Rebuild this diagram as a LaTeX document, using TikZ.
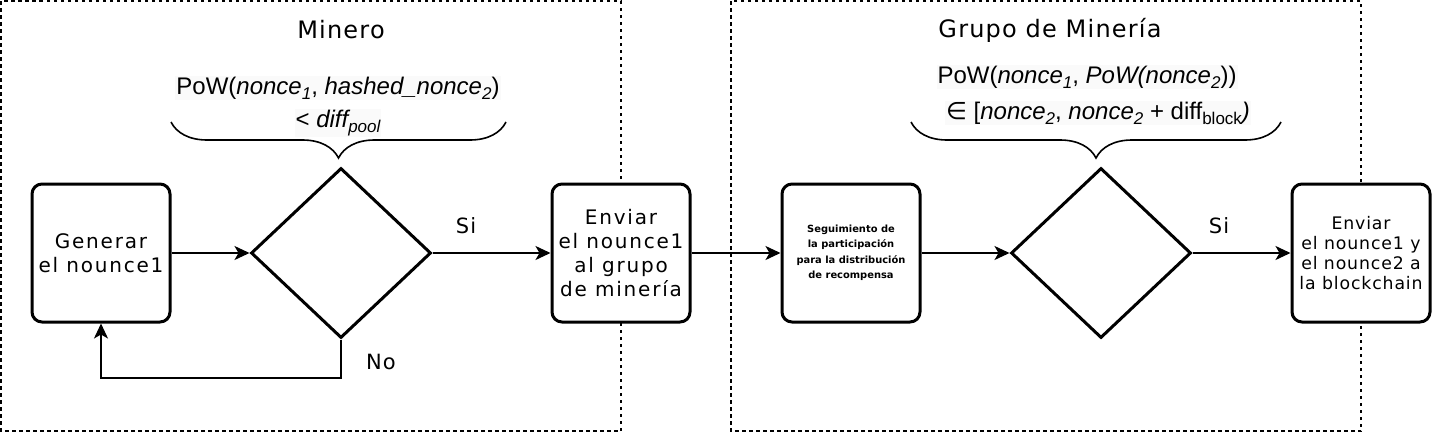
\documentclass[tikz,border=0pt]{standalone}
\usepackage{fontspec}
\setmainfont{DejaVu Sans}
\newfontfamily\formfont{Liberation Sans}
\newfontfamily\boxfont[LetterSpace=9]{DejaVu Sans}
\newfontfamily\boxfontb[LetterSpace=5]{DejaVu Sans}
\newcommand\mysub[1]{\raisebox{-0.4ex}{\fontsize{17}{17}\selectfont #1}}
\usetikzlibrary{shapes.geometric,arrows.meta,decorations.pathreplacing}
\begin{document}
\begin{tikzpicture}[x=1pt,y=-1pt,
  groupbox/.style={draw,line width=1.3pt,dash pattern=on 3.5pt off 3.5pt},
  procbox/.style={draw,line width=3pt,rounded corners=10pt,fill=white,minimum width=138pt,minimum height=138pt,align=center,inner sep=0pt},
  decision/.style={draw,line width=3pt,diamond,aspect=1.06,minimum width=180pt,minimum height=170pt,inner sep=0pt},
  conn/.style={line width=1.8pt,-{Stealth[length=15pt,width=14pt,inset=4pt]}},
  title/.style={font=\boxfontb\fontsize{24}{27}\selectfont},
  lbl/.style={font=\boxfontb\fontsize{21}{24}\selectfont},
  formula/.style={font=\formfont\fontsize{24}{26}\selectfont,fill=gray!4,inner sep=1pt,align=center},
  bracestyle/.style={decorate,decoration={brace,amplitude=36pt,aspect=0.5},line width=1.6pt}
]
\useasboundingbox (0,0) rectangle (1434,434);
% group boxes
\draw[groupbox] (1,1) rectangle (621,431);
\draw[groupbox] (731,1) rectangle (1361,431);
\node[title] (tminero) at (341,30) {Minero};
\node[title] (tgrupo) at (1050,30) {Grupo de Minería};
% nodes
\node[procbox,font=\boxfont\fontsize{20}{24}\selectfont] (gen) at (101,253) {Generar\\el nounce1};
\node[decision] (d1) at (341,253) {};
\node[procbox,font=\boxfont\fontsize{20}{24}\selectfont] (env) at (621,253) {Enviar\\el nounce1\\al grupo\\de minería};
\node[procbox,font=\fontsize{9.9}{15.5}\selectfont\bfseries] (seg) at (851,253) {Seguimiento de\\la participación\\para la distribución\\de recompensa};
\node[decision] (d2) at (1101,253) {};
\node[procbox,font=\boxfontb\fontsize{17.3}{20}\selectfont] (fin) at (1361,253) {Enviar\\el nounce1 y\\el nounce2 a\\la blockchain};
% connectors
\draw[conn] (gen.east) -- (d1.west);
\draw[conn] (d1.east) -- (env.west);
\draw[conn] (env.east) -- (seg.west);
\draw[conn] (seg.east) -- (d2.west);
\draw[conn] (d2.east) -- (fin.west);
\node[lbl] (si1) at (466,226) {Si};
\node[lbl] (si2) at (1219,226) {Si};
\coordinate (lp) at (341,378);
\draw[conn] (d1.south) -- (lp) -| (gen.south);
\node[lbl] (no) at (381,362) {No};
% braces
\coordinate (b1l) at (171,122);
\coordinate (b1r) at (506,122);
\draw[bracestyle] (b1r) -- (b1l);
\node[formula] (f1a) at (338,88) {PoW(\textit{nonce\mysub{1}}, \textit{hashed\_nonce\mysub{2}})};
\node[formula] (f1b) at (338,123) {< \textit{diff\mysub{pool}}};
\coordinate (b2l) at (911,122);
\coordinate (b2r) at (1281,122);
\draw[bracestyle] (b2r) -- (b2l);
\node[formula] (f2a) at (1087,77) {PoW(\textit{nonce\mysub{1}}, \textit{PoW(nonce\mysub{2}}))};
\node[formula] (f2b) at (1098,113) {\fontspec{DejaVu Sans}∈\formfont{} [\textit{nonce\mysub{2}}, \textit{nonce\mysub{2}} + diff\mysub{block}\textit{)}};
\end{tikzpicture}
\end{document}
